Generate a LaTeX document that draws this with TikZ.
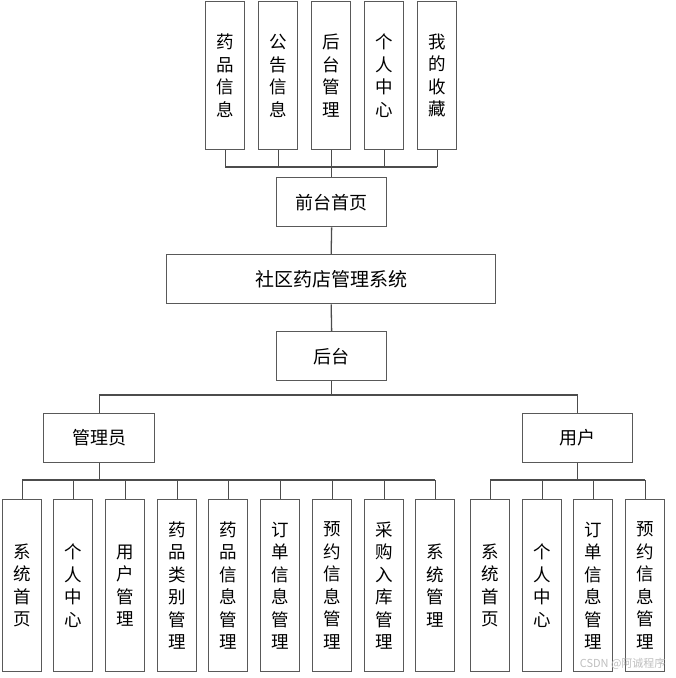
\documentclass[tikz,border=0pt]{standalone}
\usepackage{fontspec}
\newfontfamily\cjk{Noto Sans CJK SC}
\begin{document}
\begin{tikzpicture}[x=1pt,y=-1pt,
  box/.style={draw=black!65, line width=1.3pt, fill=white, inner sep=0pt, anchor=north west},
  vt/.style={font=\cjk\fontsize{17.5}{22.5}\selectfont, align=center},
  ht/.style={font=\cjk\fontsize{18}{22}\selectfont},
  ln/.style={draw=black!70, line width=1.3pt}]
\useasboundingbox (0,0) rectangle (676,678);
% top boxes
\foreach \n/\x/\t in {t1/205/{药\\品\\信\\息}, t2/258/{公\\告\\信\\息}, t3/311/{后\\台\\管\\理}, t4/364/{个\\人\\中\\心}, t5/417/{我\\的\\收\\藏}}{
  \node[box, minimum width=39pt, minimum height=148pt] (\n) at (\x,1) {};
  \node[vt] at (\n.center) {\t};
}
\node[box, minimum width=110pt, minimum height=49pt] (qt) at (276,177) {};
\node[ht] at (qt.center) {前台首页};
\node[box, minimum width=329pt, minimum height=49pt] (sys) at (166,254) {};
\node[ht, font=\cjk\fontsize{19}{22}\selectfont] at (sys.center) {社区药店管理系统};
\node[box, minimum width=110pt, minimum height=49pt] (ht) at (276,331) {};
\node[ht] at (ht.center) {后台};
\node[box, minimum width=111pt, minimum height=49pt] (adm) at (43,413) {};
\node[ht] at (adm.center) {管理员};
\node[box, minimum width=110pt, minimum height=49pt] (usr) at (522,413) {};
\node[ht] at (usr.center) {用户};
% admin children
\foreach \n/\x/\t in {a1/2/{系\\统\\首\\页}, a2/53/{个\\人\\中\\心}, a3/105/{用\\户\\管\\理}, a4/157/{药\\品\\类\\别\\管\\理}, a5/208/{药\\品\\信\\息\\管\\理}, a6/260/{订\\单\\信\\息\\管\\理}, a7/312/{预\\约\\信\\息\\管\\理}, a8/364/{采\\购\\入\\库\\管\\理}, a9/415/{系\\统\\管\\理}}{
  \node[box, minimum width=39pt, minimum height=172pt] (\n) at (\x,499) {};
  \node[vt] at (\n.center) {\t};
}
\foreach \n/\x/\t in {u1/470/{系\\统\\首\\页}, u2/522/{个\\人\\中\\心}, u3/573/{订\\单\\信\\息\\管\\理}, u4/625/{预\\约\\信\\息\\管\\理}}{
  \node[box, minimum width=39pt, minimum height=172pt] (\n) at (\x,499) {};
  \node[vt] at (\n.center) {\t};
}
% bus coordinates
\coordinate (b1) at (0,167);
\coordinate (b2) at (0,395);
\coordinate (b3) at (0,480);
% top tree
\foreach \n in {t1,t2,t3,t4,t5}{ \draw[ln] (\n.south) -- (\n.south |- b1); }
\draw[ln] (t1.south |- b1) -- (t5.south |- b1);
\draw[ln] (qt.north |- b1) -- (qt.north);
\draw[ln] (qt.south) -- (sys.north);
\draw[ln] (sys.south) -- (ht.north);
% back end
\draw[ln] (ht.south) -- (ht.south |- b2);
\draw[ln] (adm.north |- b2) -- (usr.north |- b2);
\draw[ln] (adm.north |- b2) -- (adm.north);
\draw[ln] (usr.north |- b2) -- (usr.north);
\draw[ln] (adm.south) -- (adm.south |- b3);
\draw[ln] (a1.north |- b3) -- (a9.north |- b3);
\foreach \n in {a1,a2,a3,a4,a5,a6,a7,a8,a9}{ \draw[ln] (\n.north |- b3) -- (\n.north); }
\draw[ln] (usr.south) -- (usr.south |- b3);
\draw[ln] (u1.north |- b3) -- (u4.north |- b3);
\foreach \n in {u1,u2,u3,u4}{ \draw[ln] (\n.north |- b3) -- (\n.north); }
% watermark
\node[font=\cjk\fontsize{11}{12}\selectfont, text=black!25, anchor=east] (wm) at (669,664) {CSDN @阿诚程序};
\end{tikzpicture}
\end{document}
